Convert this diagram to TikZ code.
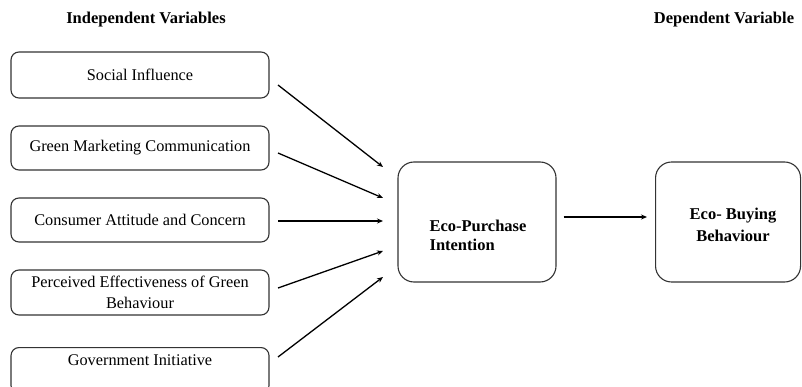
\documentclass[tikz,border=0pt]{standalone}
\usepackage{fontspec}
\setmainfont{Liberation Serif}
\usetikzlibrary{arrows.meta}
\begin{document}
\begin{tikzpicture}[x=1pt,y=-1pt,
  varbox/.style={draw=black!80, line width=1.1pt, rounded corners=8pt,
    minimum width=258pt, inner sep=0pt, align=center,
    font=\fontsize{16.3}{21}\selectfont},
  bigbox/.style={draw=black!80, line width=1.1pt, rounded corners=16pt,
    inner sep=0pt},
  header/.style={font=\fontsize{16.5}{19}\selectfont\bfseries},
  boxtext/.style={font=\fontsize{16.5}{19}\selectfont\bfseries},
  link/.style={line width=1.3pt, -{Stealth[length=6pt,width=5pt]}}]
\useasboundingbox (0,0) rectangle (802,387);

% column headings
\node[header] (hind) at (146,20) {Independent Variables};
\node[header] (hdep) at (724,20) {Dependent Variable};

% independent variables
\node[varbox, minimum height=46pt] (si) at (140,75) {Social Influence};
\node[varbox, minimum height=44pt] (gm) at (140,148) {Green Marketing Communication};
\node[varbox, minimum height=44pt] (ca) at (140,220) {Consumer Attitude and Concern};
\node[varbox, minimum height=45pt] (pe) at (140,292.5) {Perceived Effectiveness of Green\\Behaviour};
\node[varbox, minimum height=46pt, anchor=north] (gi) at (140,347) {Government Initiative\\\mbox{}};

% mediator and outcome
\node[bigbox, minimum width=158pt, minimum height=120pt] (epi) at (477,222) {};
\node[boxtext, align=left] (epit) at (478,235) {Eco-Purchase\\Intention};
\node[bigbox, minimum width=145pt, minimum height=120pt, anchor=west] (ebb) at (655,222) {};
\node[boxtext, align=center, font=\fontsize{16.5}{22}\selectfont\bfseries] (ebbt) at (733,225) {Eco- Buying\\Behaviour};

% arrow end points in front of the mediator
\coordinate (s1) at (278,85);
\coordinate (s2) at (278,153);
\coordinate (s3) at (278,221);
\coordinate (s4) at (278,288);
\coordinate (s5) at (278,357);
\coordinate (e1) at (383,167);
\coordinate (e2) at (383,198);
\coordinate (e3) at (383,221);
\coordinate (e4) at (383,251);
\coordinate (e5) at (383,277);

\draw[link] (s1) -- (e1);
\draw[link] (s2) -- (e2);
\draw[link] (s3) -- (e3);
\draw[link] (s4) -- (e4);
\draw[link] (s5) -- (e5);

\draw[link] ([xshift=7pt]epi.east |- 0,217) -- ([xshift=-8pt]ebb.west |- 0,217);
\end{tikzpicture}
\end{document}
